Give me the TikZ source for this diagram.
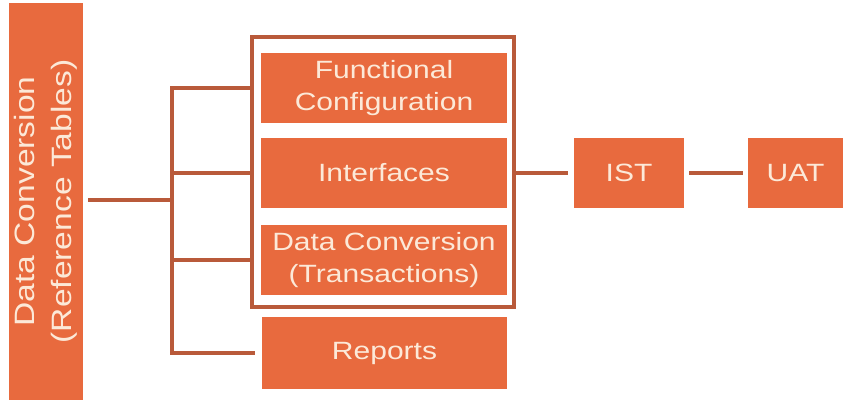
\documentclass[tikz,border=0pt]{standalone}
\usepackage{fontspec}
\newfontfamily\boxfont[FakeStretch=1.2]{Liberation Sans}

\definecolor{boxorange}{HTML}{E86A3E}
\definecolor{linebrown}{HTML}{B95A3A}
\definecolor{boxtext}{HTML}{FCE9D8}

\begin{document}
\begin{tikzpicture}[x=1pt, y=1pt,
  phase/.style={fill=boxorange, text=boxtext, inner sep=0pt, align=center,
    font=\boxfont\fontsize{25}{32}\selectfont},
  link/.style={draw=linebrown, line width=4pt, line cap=rect}]

\useasboundingbox (0,0) rectangle (846,399);

\node[phase, minimum width=73, minimum height=397,
  font=\boxfont\fontsize{28}{37}\selectfont] (ref) at (45.5,197.5)
  {\rotatebox{90}{\begin{tabular}{@{}c@{}}Data Conversion\\(Reference Tables)\end{tabular}}};

\node[draw=linebrown, line width=4pt, minimum width=262, minimum height=270] (grp) at (383,227) {};

\node[phase, minimum width=246, minimum height=70] (func) at (384,311) {Functional\\Configuration};
\node[phase, minimum width=246, minimum height=70] (intf) at (384,226) {Interfaces};
\node[phase, minimum width=246, minimum height=70] (dconv) at (384,139) {Data Conversion\\(Transactions)};
\node[phase, minimum width=245, minimum height=72] (reports) at (384.5,46) {Reports};

\node[phase, minimum width=110, minimum height=70] (ist) at (629,226) {IST};
\node[phase, minimum width=95, minimum height=70] (uat) at (795.5,226) {UAT};

\coordinate (split) at (172,199);

\draw[link, shorten <=7pt] (ref.east |- split) -- (split);
\draw[link] (split |- func) -- (split |- reports);
\draw[link] (split |- func) -- (grp.west |- func);
\draw[link] (split |- intf) -- (grp.west |- intf);
\draw[link] (split |- dconv) -- (grp.west |- dconv);
\draw[link, shorten >=9pt] (split |- reports) -- (reports.west);
\draw[link, shorten >=8pt] (grp.east |- intf) -- (ist.west);
\draw[link, shorten <=7pt, shorten >=7pt] (ist) -- (uat);

\end{tikzpicture}
\end{document}
